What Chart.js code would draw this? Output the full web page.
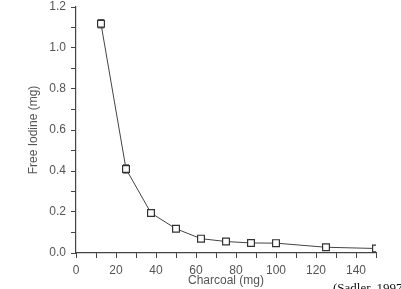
<!DOCTYPE html>
<html><head><meta charset="utf-8">
<script src="https://cdn.jsdelivr.net/npm/chart.js@4/dist/chart.umd.min.js"></script>
<style>html,body{margin:0;padding:0;background:#fff}#wrap{width:401px;height:289px}</style>
</head><body><div id="wrap"><canvas id="c" width="401" height="289"></canvas></div>
<script>
const charcoal = [12.5, 25, 37.5, 50, 62.5, 75, 87.5, 100, 125, 150];
const freeIodine = [1.118, 0.41, 0.195, 0.118, 0.07, 0.056, 0.049, 0.048, 0.028, 0.022];
const errorBars = [0.02, 0.02, 0, 0, 0, 0, 0, 0, 0, 0];
const xTicks = [0, 20, 40, 60, 80, 100, 120, 140];
const yTicks = [0.0, 0.2, 0.4, 0.6, 0.8, 1.0, 1.2];
const sourceNote = "(Sadler, 1997)";

const gray = '#555';
const errPlugin = {
  id: 'err',
  beforeDatasetsDraw(chart) {
    const {ctx, scales: {x, y}} = chart;
    ctx.save();
    ctx.strokeStyle = '#333'; ctx.lineWidth = 1;
    charcoal.forEach((cx, i) => {
      const e = errorBars[i]; if (!e) return;
      const px = x.getPixelForValue(cx);
      const y1 = y.getPixelForValue(freeIodine[i] + e), y2 = y.getPixelForValue(freeIodine[i] - e);
      ctx.beginPath();
      ctx.moveTo(px, y1); ctx.lineTo(px, y2);
      ctx.moveTo(px - 3, y1); ctx.lineTo(px + 3, y1);
      ctx.moveTo(px - 3, y2); ctx.lineTo(px + 3, y2);
      ctx.stroke();
    });
    ctx.restore();
  },
  afterDraw(chart) {
    const ctx = chart.ctx;
    ctx.save();
    ctx.fillStyle = '#111';
    ctx.font = '13px "Liberation Serif", serif';
    ctx.textBaseline = 'top';
    ctx.fillText(sourceNote, 333, 282);
    ctx.restore();
  }
};

new Chart(document.getElementById('c'), {
  type: 'scatter',
  data: {
    datasets: [{
      data: charcoal.map((v, i) => ({x: v, y: freeIodine[i]})),
      showLine: true,
      borderColor: '#444',
      borderWidth: 1,
      pointStyle: 'rect',
      pointRadius: 4.8,
      pointBackgroundColor: '#fff',
      pointBorderColor: '#333',
      pointBorderWidth: 1.2
    }]
  },
  options: {
    responsive: false,
    animation: false,
    layout: {padding: {left: 22, right: 25, top: 7, bottom: 0}},
    plugins: {legend: {display: false}, tooltip: {enabled: false}},
    scales: {
      x: {
        type: 'linear', min: 0, max: 150,
        afterFit(s) { s.height = 36; s.paddingLeft = 0; s.paddingRight = 0; },
        afterBuildTicks(s) { const t = []; for (let v = 0; v <= 150; v += 10) t.push({value: v}); s.ticks = t; },
        ticks: {
          color: gray, font: {family: '"Liberation Sans", Arial', size: 12}, padding: 5, maxRotation: 0, autoSkip: false,
          callback: (v) => xTicks.includes(v) ? String(v) : ''
        },
        grid: {drawOnChartArea: false, drawTicks: true, tickLength: 5, color: '#444', tickColor: '#444'},
        border: {color: '#444', width: 1.2},
        title: {display: true, text: 'Charcoal (mg)', color: gray, font: {family: '"Liberation Sans", Arial', size: 12}, padding: {top: 0, bottom: 1}}
      },
      y: {
        type: 'linear', min: 0, max: 1.2,
        afterFit(s) { s.width = 54; s.paddingTop = 0; s.paddingBottom = 0; },
        afterBuildTicks(s) { const t = []; for (let k = 0; k <= 12; k++) t.push({value: k / 10}); s.ticks = t; },
        ticks: {
          color: gray, font: {family: '"Liberation Sans", Arial', size: 12}, padding: 5, autoSkip: false,
          callback: (v) => { const r = Math.round(v * 10); return r % 2 === 0 ? (r / 10).toFixed(1) : ''; }
        },
        grid: {drawOnChartArea: false, drawTicks: true, tickLength: 5, color: '#444', tickColor: '#444'},
        border: {color: '#444', width: 1.2},
        title: {display: true, text: 'Free Iodine (mg)', color: gray, font: {family: '"Liberation Sans", Arial', size: 12}, padding: {top: 4, bottom: 2}}
      }
    }
  },
  plugins: [errPlugin]
});
</script></body></html>
